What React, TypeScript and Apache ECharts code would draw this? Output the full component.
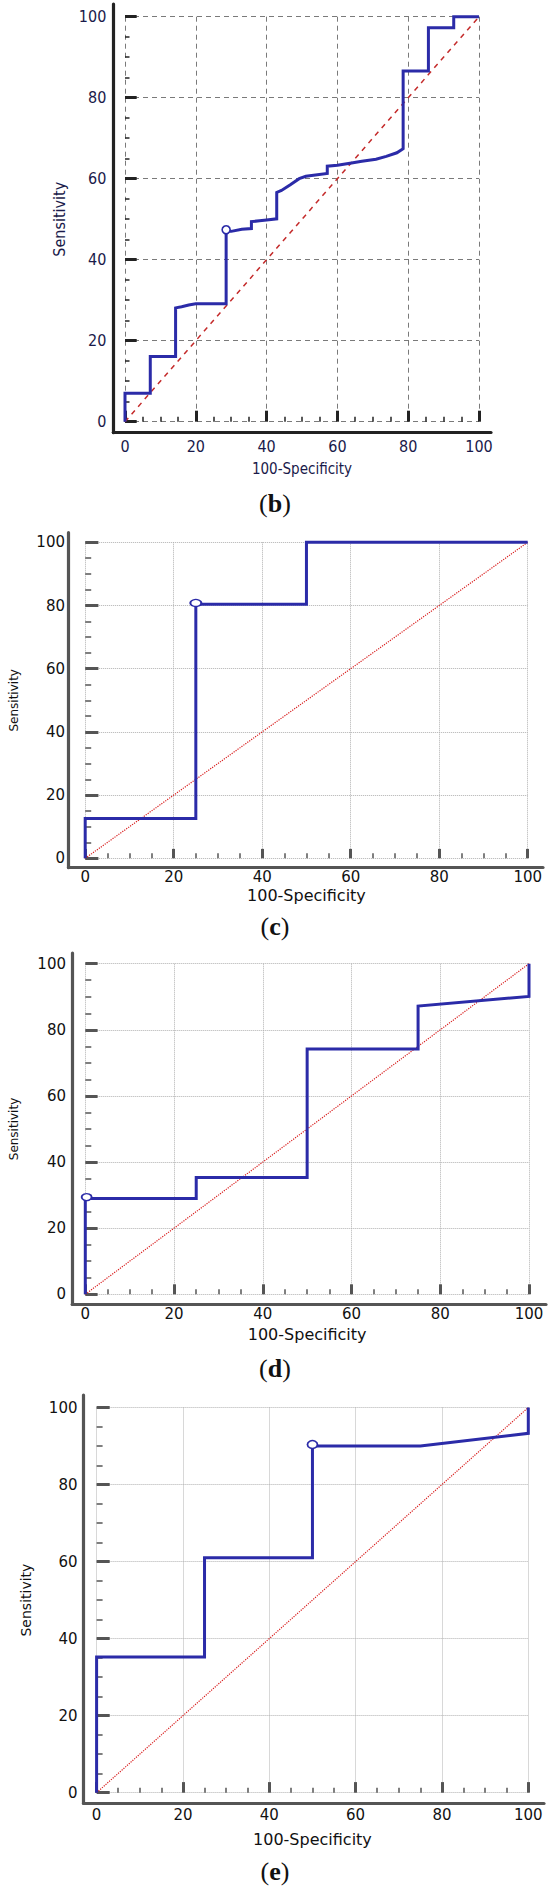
import React, { useEffect, useRef } from "react";
import * as echarts from "echarts";

// ---------- data ----------
const X_NAME = "100-Specificity";
const Y_NAME = "Sensitivity";
const PANEL_LETTERS = ["b", "c", "d", "e"];
const DIAG_X = [0, 100];
const DIAG_Y = [0, 100];

const ROC_B_X = [0, 0, 7.14, 7.14, 14.29, 14.29, 16, 18, 20, 28.57, 28.57, 30, 33, 35.71, 35.71, 38, 40, 42.86, 42.86, 44.2, 46.7, 49.2, 51.1, 57.14, 57.14, 60, 64, 66.9, 70.9, 73.8, 76.8, 78.57, 78.57, 85.71, 85.71, 92.86, 92.86, 100];
const ROC_B_Y = [0, 7.0, 7.0, 16.1, 16.1, 28.1, 28.4, 28.8, 29.1, 29.1, 47.0, 47.0, 47.5, 47.7, 49.4, 49.6, 49.8, 50.1, 56.6, 57.1, 58.5, 60.0, 60.6, 61.3, 63.1, 63.3, 63.9, 64.3, 64.8, 65.5, 66.4, 67.4, 86.6, 86.6, 97.3, 97.3, 100, 100];
const CUT_B = [28.57, 47.4];

const ROC_C_X = [0, 0, 25, 25, 50, 50, 100];
const ROC_C_Y = [0, 12.6, 12.6, 80.4, 80.4, 100, 100];
const CUT_C = [25, 80.8];

const ROC_D_X = [0, 0, 25, 25, 50, 50, 75, 75, 100, 100];
const ROC_D_Y = [0, 29.0, 29.0, 35.3, 35.3, 74.2, 74.2, 87.2, 90.1, 100];
const CUT_D = [0.3, 29.4];

const ROC_E_X = [0, 0, 25, 25, 50, 50, 75, 100, 100];
const ROC_E_Y = [0, 35.2, 35.2, 61.0, 61.0, 90.0, 90.0, 93.3, 100];
const CUT_E = [50, 90.4];

const ROC_X = [ROC_B_X, ROC_C_X, ROC_D_X, ROC_E_X];
const ROC_Y = [ROC_B_Y, ROC_C_Y, ROC_D_Y, ROC_E_Y];
const CUTS = [CUT_B, CUT_C, CUT_D, CUT_E];

// ---------- layout (pixels) ----------
const LAYOUTS = [
  { x0: 125, x100: 479, y100: 16.7, y0: 421.7, axX: 113.3, axY: 432.7, top: 4, right: 491, letterY: 503.3, xGap: 29, yGap: 41, xMargin: 6, yMargin: 7, mark: [8, 8], yMinor: 4.5, xMinor: 5 },
  { x0: 81.7, x100: 527.7, y100: 542.3, y0: 858.3, axX: 68.5, axY: 867.7, top: 532.7, right: 543, letterY: 926.7, xGap: 20, yGap: 52, xMargin: 2, yMargin: 7, mark: [11, 7], yMinor: 6, xMinor: 5 },
  { x0: 84.5, x100: 529, y100: 963.7, y0: 1294.3, axX: 72.2, axY: 1304.3, top: 953, right: 546, letterY: 1368.3, xGap: 22, yGap: 53, xMargin: 2, yMargin: 7, mark: [10, 7], yMinor: 6, xMinor: 5 },
  { x0: 96.6, x100: 528.3, y100: 1407.5, y0: 1792.7, axX: 83.5, axY: 1803.3, top: 1395, right: 544, letterY: 1871.7, xGap: 28, yGap: 51, xMargin: 4, yMargin: 6, mark: [10, 8], yMinor: 6, xMinor: 5 },
];

const OLD_STYLE = {
  font: "'Liberation Sans Narrow', 'DejaVu Sans Condensed', 'Liberation Sans', Arial, sans-serif",
  tickSize: 16, xNameSize: 15, yNameSize: 16,
  text: "#1a1a4a", axis: "#222222", grid: "#7a7a7a", gridType: [5, 4] as any,
  diag: "#c42a2a", diagType: [5, 5] as any, diagWidth: 1.5,
};
const NEW_STYLE = {
  font: "'DejaVu Sans', Verdana, sans-serif", tickSize: 15, xNameSize: 16, yNameSize: 12,
  text: "#111111", axis: "#555555", grid: "#b0b0b0", gridType: "dotted" as any,
  diag: "#d81c1c", diagType: "dotted" as any, diagWidth: 1.2,
};
const STYLES = [OLD_STYLE, { ...NEW_STYLE }, { ...NEW_STYLE }, { ...NEW_STYLE, yNameSize: 14 }];
const BLUE = "#2b2ba8";

function buildOption() {
  const grid: any[] = [];
  const xAxis: any[] = [];
  const yAxis: any[] = [];
  const series: any[] = [];

  LAYOUTS.forEach((l, i) => {
    const s = STYLES[i];
    const gi = i * 2;
    const go = i * 2 + 1;
    const xOff = l.axY - l.y0;
    const yOff = l.x0 - l.axX;
    grid.push({ left: l.x0, top: l.y100, width: l.x100 - l.x0, height: l.y0 - l.y100, containLabel: false });
    grid.push({ left: l.axX, top: l.top, width: l.right - l.axX, height: l.axY - l.top, containLabel: false });

    const txt = { color: s.text, fontFamily: s.font };
    xAxis.push({
      type: "value", gridIndex: gi, min: 0, max: 100, interval: 20, offset: xOff,
      axisLine: { show: false },
      axisTick: { show: true, inside: true, length: xOff, lineStyle: { color: s.axis, width: 3 } },
      minorTick: { show: true, splitNumber: 4, length: l.xMinor, lineStyle: { color: s.axis, width: 1.5 } },
      axisLabel: { ...txt, fontSize: s.tickSize, margin: l.xMargin },
      splitLine: { show: true, lineStyle: { color: s.grid, type: s.gridType, width: 1 } },
      name: X_NAME, nameLocation: "middle", nameGap: l.xGap,
      nameTextStyle: { ...txt, fontSize: s.xNameSize },
    });
    yAxis.push({
      type: "value", gridIndex: gi, min: 0, max: 100, interval: 20, offset: yOff,
      axisLine: { show: false },
      axisTick: { show: true, inside: true, length: yOff, lineStyle: { color: s.axis, width: 3 } },
      minorTick: { show: true, splitNumber: 4, length: l.yMinor, lineStyle: { color: s.axis, width: 1.5 } },
      axisLabel: { ...txt, fontSize: s.tickSize, margin: l.yMargin },
      splitLine: { show: true, lineStyle: { color: s.grid, type: s.gridType, width: 1 } },
      name: Y_NAME, nameLocation: "middle", nameGap: l.yGap, nameRotate: 90,
      nameTextStyle: { ...txt, fontSize: s.yNameSize },
    });
    const plain = {
      type: "value", min: 0, max: 1,
      axisLine: { show: true, lineStyle: { color: s.axis, width: 3.2 } },
      axisTick: { show: false }, axisLabel: { show: false }, splitLine: { show: false },
    };
    xAxis.push({ ...plain, gridIndex: go });
    yAxis.push({ ...plain, gridIndex: go });

    series.push({
      type: "line", xAxisIndex: gi, yAxisIndex: gi, clip: false, symbol: "none", silent: true,
      data: DIAG_X.map((x, k) => [x, DIAG_Y[k]]),
      lineStyle: { color: s.diag, width: s.diagWidth, type: s.diagType },
      z: 3,
    });
    series.push({
      type: "line", xAxisIndex: gi, yAxisIndex: gi, clip: false, symbol: "none", silent: true,
      data: ROC_X[i].map((x, k) => [x, ROC_Y[i][k]]),
      lineStyle: { color: BLUE, width: 3, join: "miter" },
      z: 4,
    });
    series.push({
      type: "scatter", xAxisIndex: gi, yAxisIndex: gi, clip: false, silent: true,
      data: [CUTS[i]], symbol: "circle", symbolSize: l.mark,
      itemStyle: { color: "#ffffff", borderColor: BLUE, borderWidth: 1.6, opacity: 1 },
      z: 5,
    });
  });

  const serif = "'Liberation Serif', 'Times New Roman', serif";
  const graphic = LAYOUTS.map((l, i) => ({
    type: "text", x: 275, y: l.letterY, z: 10,
    style: {
      text: `{p|(}{b|${PANEL_LETTERS[i]}}{p|)}`,
      align: "center", verticalAlign: "middle",
      textAlign: "center", textVerticalAlign: "middle",
      rich: {
        p: { fontFamily: serif, fontSize: 26, fill: "#111" },
        b: { fontFamily: serif, fontSize: 26, fontWeight: "bold", fill: "#111" },
      },
    },
  }));

  return { animation: false, backgroundColor: "#ffffff", grid, xAxis, yAxis, series, graphic };
}

export default function App() {
  const ref = useRef<HTMLDivElement>(null);
  useEffect(() => {
    if (!ref.current) return;
    const chart = echarts.init(ref.current, undefined, { renderer: "svg" });
    chart.setOption(buildOption() as any);
    return () => chart.dispose();
  }, []);
  return (
    <div
      ref={ref}
      style={{ position: "absolute", left: 0, top: 0, width: 550, height: 1892, background: "#fff" }}
    />
  );
}
